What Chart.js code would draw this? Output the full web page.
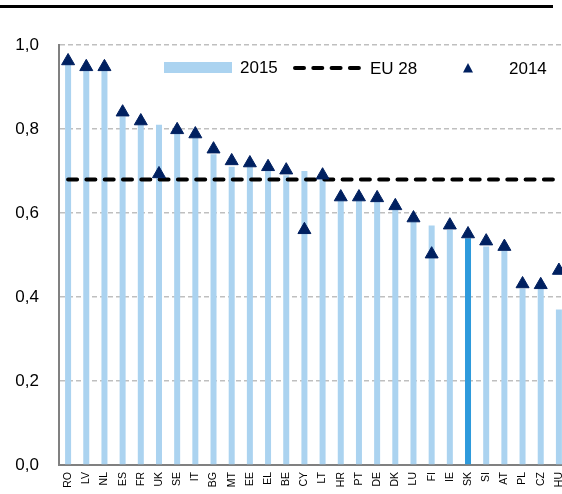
<!DOCTYPE html>
<html>
<head>
<meta charset="utf-8">
<script src="https://cdn.jsdelivr.net/npm/chart.js@4.4.1/dist/chart.umd.min.js"></script>
<style>
  html, body { margin: 0; padding: 0; background: #fff; overflow: hidden; }
  #wrap { position: relative; width: 562px; height: 494px; overflow: hidden; }
  #rule { position: absolute; left: 0; top: 5px; width: 553px; height: 3px; background: #000; z-index: 1; }
  canvas { position: absolute; left: 0; top: 0; }
</style>
</head>
<body>
<div id="wrap">
  <div id="rule"></div>
  <canvas id="chart" width="568" height="494"></canvas>
</div>
<script>
// data
const countries = ['RO', 'LV', 'NL', 'ES', 'FR', 'UK', 'SE', 'IT', 'BG', 'MT', 'EE', 'EL', 'BE', 'CY',
                   'LT', 'HR', 'PT', 'DE', 'DK', 'LU', 'FI', 'IE', 'SK', 'SI', 'AT', 'PL', 'CZ', 'HU'];
const values2015 = [0.96, 0.95, 0.95, 0.83, 0.81, 0.81, 0.80, 0.78, 0.74, 0.71, 0.71, 0.70, 0.69, 0.70,
                    0.68, 0.63, 0.63, 0.63, 0.61, 0.58, 0.57, 0.56, 0.54, 0.52, 0.51, 0.42, 0.42, 0.37];
const values2014 = [0.962, 0.948, 0.948, 0.84, 0.819, 0.693, 0.798, 0.788, 0.752, 0.724, 0.719, 0.71, 0.702, 0.56,
                    0.69, 0.638, 0.638, 0.636, 0.617, 0.588, 0.502, 0.571, 0.55, 0.533, 0.52, 0.431, 0.429, 0.463];
const eu28Avg = 0.68;
const highlighted = 'SK';

const barColor = '#ABD3F0';
const barHighlight = '#2E9ADC';
const markerColor = '#002060';
const fontFamily = '"Liberation Sans", Arial, sans-serif';

// legend drawn by hand at the top of the plot, like the original
const topLegend = {
  id: 'topLegend',
  afterDraw(chart) {
    const ctx = chart.ctx;
    ctx.save();
    ctx.font = '17px ' + fontFamily;
    ctx.textBaseline = 'alphabetic';

    ctx.fillStyle = barColor;
    ctx.fillRect(164, 62, 68, 11);
    ctx.fillStyle = '#000';
    ctx.fillText('2015', 240, 73);

    ctx.strokeStyle = '#000';
    ctx.lineWidth = 4;
    ctx.lineCap = 'round';
    ctx.setLineDash([9, 9.3]);
    ctx.beginPath();
    ctx.moveTo(295, 68);
    ctx.lineTo(361, 68);
    ctx.stroke();
    ctx.setLineDash([]);
    ctx.fillText('EU 28', 370, 74);

    ctx.fillStyle = markerColor;
    ctx.beginPath();
    ctx.moveTo(468, 63);
    ctx.lineTo(473, 72.5);
    ctx.lineTo(463, 72.5);
    ctx.closePath();
    ctx.fill();
    ctx.fillStyle = '#000';
    ctx.fillText('2014', 509, 74);
    ctx.restore();
  }
};

new Chart(document.getElementById('chart'), {
  type: 'bar',
  data: {
    labels: countries,
    datasets: [
      {
        type: 'line',
        label: '2014',
        data: values2014,
        showLine: false,
        pointStyle: 'triangle',
        pointRadius: 7.5,
        pointBackgroundColor: markerColor,
        pointBorderColor: markerColor,
        pointBorderWidth: 1,
        clip: false,
        order: 0
      },
      {
        type: 'line',
        label: 'EU 28',
        data: countries.map(() => eu28Avg),
        borderColor: '#000',
        borderWidth: 4,
        borderDash: [9, 9.3],
        borderCapStyle: 'round',
        pointRadius: 0,
        fill: false,
        clip: false,
        order: 1
      },
      {
        label: '2015',
        data: values2015,
        backgroundColor: countries.map(c => c === highlighted ? barHighlight : barColor),
        barPercentage: 0.33,
        categoryPercentage: 1,
        order: 2
      }
    ]
  },
  options: {
    responsive: false,
    devicePixelRatio: 1,
    animation: false,
    events: [],
    layout: { autoPadding: false, padding: { top: 45, left: 0, right: 0, bottom: 0 } },
    plugins: {
      legend: { display: false },
      tooltip: { enabled: false }
    },
    scales: {
      x: {
        grid: { display: false, drawTicks: false },
        border: { color: '#808080', width: 2 },
        ticks: {
          autoSkip: false,
          minRotation: 90,
          maxRotation: 90,
          padding: 7,
          color: '#000',
          font: { family: fontFamily, size: 10.5 }
        },
        afterFit: (s) => { s.height = 29; s.paddingLeft = 0; s.paddingRight = 0; }
      },
      y: {
        min: 0,
        max: 1,
        grid: {
          drawTicks: false,
          lineWidth: 1.5,
          color: (c) => c.tick && c.tick.value === 0 ? 'rgba(0,0,0,0)' : '#BFBFBF'
        },
        border: { color: '#808080', width: 2, dash: [5, 3] },
        ticks: {
          stepSize: 0.2,
          padding: 20,
          color: '#000',
          font: { family: fontFamily, size: 17 },
          callback: (v) => v.toFixed(1).replace('.', ',')
        },
        afterFit: (s) => { s.width = 59; s.paddingTop = 0; s.paddingBottom = 0; }
      }
    }
  },
  plugins: [topLegend]
});
</script>
</body>
</html>
